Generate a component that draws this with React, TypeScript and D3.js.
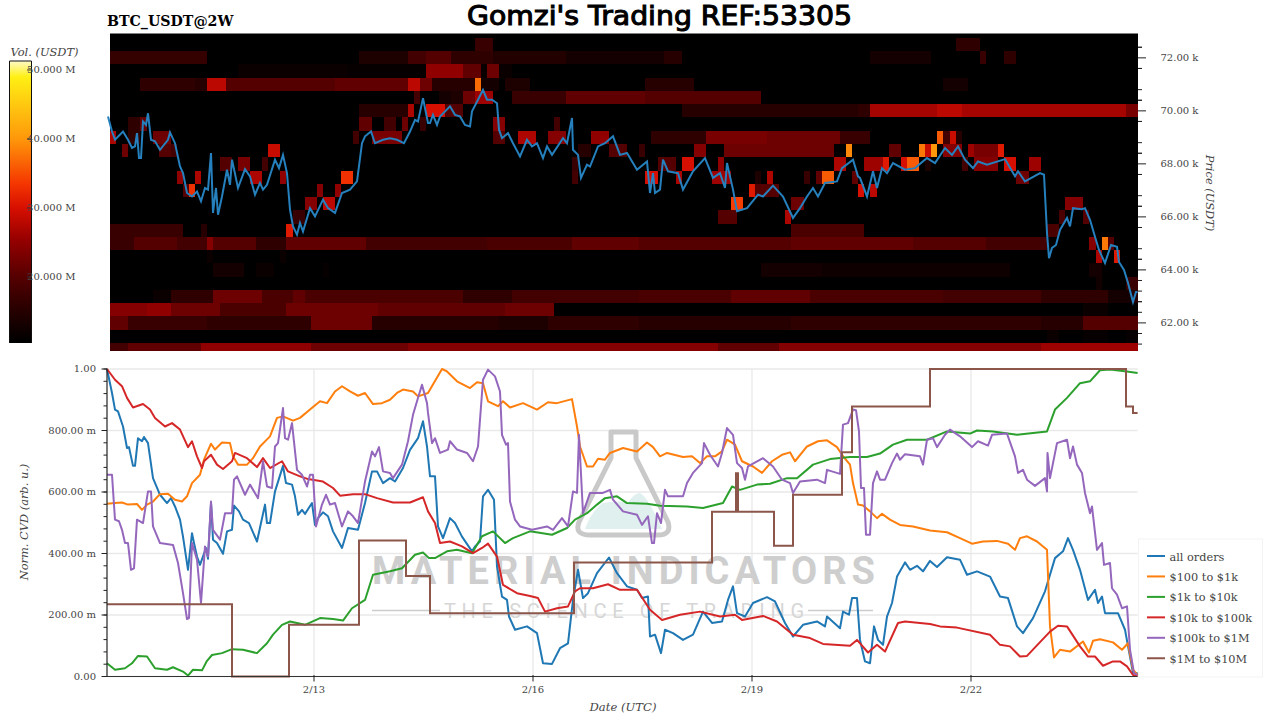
import React from 'react';
import * as d3 from 'd3';

// CVD samples are [sample number, value in milli-units]; samples come every ~20 min
const SAMPLE_MS = (24 * 3600 * 1000) / 73;
const FEB13 = Date.UTC(2026, 1, 13);
const START = FEB13 - 207 * SAMPLE_MS;
const LAST_SAMPLE = 1030.6;
const BAR_MS = 2 * 3600 * 1000;
const BAR_OFFSET = 3; // first heatmap bar starts 3 samples in

const price: [number, number][] = [
  [1,69.79],[5,69.22],[8,68.91],[16,69.22],[21,68.91],[25,68.6],[28,68.66],[30,69.16],[32,68.22],[34,68.22],[36,69.6],[39,69.47],[41,69.91],[44,68.91],[48,68.85],[53,68.53],[61,68.91],[63,69.19],[68,68.78],[73,67.9],[76,67.65],[80,66.9],[85,66.77],[90,66.96],[94,66.59],[98,67.09],[101,67.03],[104,68.41],[106,66.15],[109,67.09],[111,66.08],[115,66.77],[120,67.78],[123,67.21],[125,68.16],[131,67.09],[138,67.8],[143,67.53],[148,66.84],[153,67.28],[156,67.03],[160,67.21],[168,68.16],[172,67.84],[176,68.34],[180,67.65],[183,66.27],[186,65.64],[190,65.33],[193,65.77],[196,65.45],[203,66.33],[208,66.02],[216,66.65],[221,66.33],[228,66.15],[235,66.9],[243,67.03],[250,67.34],[255,68.78],[258,69.04],[264,69.22],[268,68.78],[276,68.91],[283,68.97],[290,68.91],[297,68.78],[303,69.22],[308,69.66],[311,69.6],[316,70.48],[321,69.54],
  [323,69.54],[326,69.85],[330,69.47],[333,69.79],[343,70.17],[348,69.85],[353,69.79],[358,69.47],[363,69.41],[365,69.98],[371,70.42],[376,70.79],[380,70.42],[385,70.42],[390,70.29],[392,69.29],[395,68.97],[401,69.16],[406,68.78],[413,68.28],[420,68.91],[425,68.66],[430,68.78],[436,68.22],[440,68.66],[445,68.34],[456,68.97],[460,68.78],[465,69.73],[466,68.53],[471,68.34],[474,67.47],[480,67.97],[483,67.9],[491,68.66],[498,68.78],[506,69.04],[513,68.34],[520,68.41],[530,67.78],[540,68.09],[543,66.9],[546,67.65],[548,66.9],[553,67.03],[556,68.16],[561,67.72],[571,67.65],[576,67.03],[586,67.72],[598,68.22],[606,67.47],[613,67.65],[618,67.09],[620,68.03],[626,67.03],[630,66.21],[640,66.33],[651,66.84],[656,66.77],[666,67.18],[676,66.77],[686,65.96],[693,66.33],[700,66.77],[706,67.09],[711,66.77],[718,67.28],[730,67.34],[735,67.84],[746,68.16],[751,67.53],
  [753,67.47],[760,66.77],[766,67.72],[770,67.09],[775,67.84],[780,67.65],[786,68.03],[798,67.78],[808,67.84],[820,68.22],[828,68.03],[838,68.6],[845,68.34],[851,68.66],[858,68.16],[866,67.84],[871,68.09],[880,67.97],[898,68.18],[908,67.53],[911,67.72],[918,67.34],[933,67.65],[937,67.59],[940,65.39],[942,64.44],[945,64.83],[949,64.94],[953,65.51],[955,65.64],[960,65.96],[963,65.64],[966,66.33],[975,66.29],[978,66.33],[983,65.89],[988,65.25],[992,64.75],[998,64.26],[1004,64.94],[1010,64.87],[1012,64.3],[1017,64],[1021,63.51],[1026,62.79],[1029,63.17],[1030.6,63.17],
];

const allOrders: [number, number][] = [
  [0,1000],[5,922],[8,868],[11,862],[16,813],[20,743],[22,746],[26,685],[28,685],[31,775],[35,765],[37,779],[41,759],[46,645],[53,591],[60,564],[64,580],[68,553],[73,510],[76,455],[81,347],[85,466],[87,434],[90,390],[93,363],[99,418],[101,383],[104,564],[106,445],[110,434],[116,399],[120,472],[125,477],[127,556],[132,537],[136,510],[142,499],[150,439],[154,499],[158,559],[160,499],[163,499],[168,602],[176,685],[179,629],[185,624],[188,586],[191,526],[195,542],[198,529],[205,564],[208,493],[211,515],[216,534],[221,521],[226,472],[235,418],[241,483],[251,477],[258,564],[265,667],[270,667],[276,629],[283,645],[288,634],[296,678],[303,737],[311,775],[316,830],[320,748],[323,651],
  [328,651],[331,488],[336,450],[343,515],[348,499],[355,455],[365,407],[368,423],[373,439],[376,586],[381,607],[387,575],[390,358],[395,260],[400,249],[402,195],[408,152],[420,163],[430,141],[436,43],[445,41],[453,92],[461,108],[466,249],[471,347],[476,255],[481,271],[490,336],[502,387],[510,336],[520,293],[530,282],[535,255],[541,260],[543,130],[548,136],[554,76],[558,152],[566,141],[576,119],[586,136],[596,211],[605,174],[615,179],[621,249],[626,293],[630,206],[638,195],[646,239],[660,258],[668,244],[678,174],[686,130],[696,168],[710,179],[718,163],[720,195],[733,157],[736,211],[742,201],
  [745,255],[750,255],[753,119],[758,49],[763,43],[767,163],[771,119],[776,103],[780,195],[785,239],[790,325],[798,371],[803,347],[810,360],[816,342],[823,376],[830,356],[840,388],[853,380],[860,331],[870,342],[883,325],[893,260],[901,255],[910,163],[916,141],[926,190],[938,277],[948,385],[956,407],[961,450],[966,412],[973,347],[981,249],[988,282],[991,239],[995,260],[998,206],[1011,206],[1018,152],[1026,11],[1030.6,11],
];

const from100to1k: [number, number][] = [
  [0,562],[8,564],[15,566],[21,559],[30,561],[35,542],[40,559],[46,569],[53,593],[61,594],[68,575],[75,569],[80,586],[85,629],[93,656],[97,705],[104,757],[108,738],[115,761],[123,759],[126,716],[131,689],[140,689],[146,710],[153,748],[163,781],[170,841],[176,846],[186,832],[193,841],[203,868],[213,895],[220,889],[228,927],[235,944],[243,927],[251,913],[258,922],[266,886],[275,889],[283,900],[290,922],[296,933],[306,927],[311,911],[321,922],
  [335,1000],[340,992],[350,960],[363,938],[370,957],[376,954],[381,895],[391,879],[396,895],[403,875],[416,889],[430,868],[441,892],[450,889],[465,902],[470,813],[473,748],[480,683],[486,683],[491,708],[498,705],[503,727],[516,743],[530,732],[540,761],[546,746],[553,716],[560,727],[576,714],[585,716],[593,694],[600,716],[608,716],[615,732],[620,770],[628,754],[635,700],[646,683],[655,662],[665,700],[675,721],[683,729],[688,700],[700,748],[711,765],[720,768],[730,746],[735,721],[743,689],
  [746,629],[751,559],[756,556],[763,537],[770,515],[775,529],[783,510],[793,493],[806,488],[823,475],[840,469],[853,450],[865,432],[876,439],[890,441],[901,432],[908,412],[913,450],[920,456],[930,439],[940,412],[943,163],[947,62],[953,87],[963,81],[976,114],[982,78],[986,116],[993,121],[1006,111],[1015,87],[1021,108],[1026,22],[1030.6,5],
];

const from1kto10k: [number, number][] = [
  [0,43],[8,22],[18,27],[25,43],[31,67],[40,65],[48,27],[60,22],[66,30],[76,16],[81,3],[86,22],[95,20],[100,51],[105,70],[115,76],[125,89],[136,87],[150,76],[160,108],[166,136],[175,168],[183,179],[198,168],[213,190],[226,187],[236,182],[245,222],[258,249],[266,331],[283,342],[295,352],[308,396],[316,403],[322,385],
  [328,385],[340,407],[350,412],[365,401],[375,456],[386,472],[398,434],[406,450],[423,472],[445,461],[460,483],[468,510],[480,531],[490,559],[498,580],[510,586],[520,564],[540,562],[553,555],[580,553],[596,548],[616,564],[625,618],[633,607],[650,624],[663,627],[680,645],[690,645],[706,689],[723,707],[743,714],
  [760,714],[773,725],[786,754],[800,770],[820,770],[840,797],[863,790],[870,800],[886,797],[910,786],[940,797],[948,868],[960,906],[973,954],[983,960],[993,996],[1003,998],[1020,992],[1030.6,987],
];

const from10kto100k: [number, number][] = [
  [0,1000],[8,965],[15,944],[20,906],[26,875],[36,886],[43,868],[48,841],[58,813],[65,824],[73,803],[81,746],[85,765],[90,716],[95,678],[97,700],[104,721],[110,689],[116,675],[125,700],[128,727],[140,710],[150,681],[156,710],[163,678],[175,700],[181,667],[193,651],[201,642],[216,634],[226,613],[233,588],[246,593],[258,593],[270,580],[286,566],[303,566],[316,583],
  [321,537],[328,499],[333,434],[343,439],[355,423],[366,401],[375,418],[381,432],[390,390],[396,298],[410,271],[423,262],[431,255],[438,211],[450,222],[461,228],[468,277],[473,287],[486,287],[501,300],[513,282],[530,282],[543,217],[555,184],[573,201],[593,211],[613,195],[628,201],[635,184],[656,197],[670,179],[686,136],[703,125],[716,106],[743,100],
  [750,119],[761,78],[770,103],[778,81],[791,174],[798,179],[823,171],[833,163],[850,159],[883,136],[893,103],[903,98],[913,65],[920,67],[943,146],[951,165],[960,163],[973,98],[981,65],[988,65],[996,35],[1006,49],[1013,49],[1020,33],[1026,5],[1030.6,2],
];

const from100kto1M: [number, number][] = [
  [0,656],[5,656],[6,607],[8,510],[12,505],[15,477],[18,434],[21,434],[24,347],[27,352],[30,510],[36,499],[41,602],[44,602],[46,488],[53,434],[66,428],[71,369],[76,271],[80,187],[82,190],[85,434],[90,380],[94,239],[98,423],[101,390],[104,569],[106,477],[113,445],[118,531],[125,531],[127,640],[130,651],[138,591],[143,624],[151,580],[156,700],[160,618],[165,613],[168,748],[171,759],[176,873],[178,775],[181,770],[185,824],[190,672],[195,656],[200,618],[203,656],[206,656],[209,488],[215,559],[219,591],[223,559],[228,564],[235,488],[241,537],[246,521],[251,499],[258,634],[265,732],[268,716],[272,746],[276,667],[283,662],[286,645],[295,689],[301,765],[306,851],[310,895],[315,949],[320,889],
  [321,857],[325,759],[328,775],[333,727],[341,738],[343,765],[350,738],[360,727],[366,700],[371,748],[376,965],[381,998],[388,976],[393,927],[395,786],[399,754],[401,759],[403,569],[408,510],[413,488],[425,477],[440,488],[446,477],[455,515],[461,488],[466,602],[470,597],[472,786],[476,531],[483,597],[496,597],[503,607],[506,575],[516,537],[530,526],[535,493],[541,521],[545,434],[547,434],[550,531],[554,499],[558,607],[561,586],[576,586],[580,629],[586,662],[595,694],[597,759],[603,721],[611,683],[615,727],[620,808],[626,786],[630,694],[635,678],[638,640],[641,683],[656,710],[666,683],[675,640],[683,629],[686,597],[693,634],[710,640],[718,629],[720,672],[733,659],[736,819],[741,824],
  [746,868],[749,866],[752,797],[754,613],[757,613],[759,461],[763,461],[766,629],[770,667],[773,640],[778,640],[785,694],[790,725],[793,705],[798,723],[813,716],[816,689],[820,770],[826,775],[830,746],[838,786],[843,803],[853,781],[865,746],[871,765],[881,751],[885,786],[900,790],[908,716],[911,662],[916,672],[920,640],[928,620],[938,645],[940,602],[940.5,727],[943,645],[950,759],[960,770],[963,710],[966,748],[970,689],[975,662],[978,597],[983,531],[985,553],[990,412],[995,434],[997,363],[1003,369],[1005,287],[1010,266],[1015,222],[1020,228],[1023,87],[1027,11],[1030.6,5],
];

// $1M to $10M moves in steps, value holds until the next entry
const from1Mto10M: [number, number][] = [
  [0,235],[125,0],[182,168],[252,442],[299,327],[323,206],[467,371],[605,536],[629,661],[631,536],[667,425],[686,591],[735,729],[745,878],[823,1000],[1019,878],[1026,857],[1030.6,857],
];

const seriesNames = ['all orders', '$100 to $1k', '$1k to $10k', '$10k to $100k', '$100k to $1M', '$1M to $10M'];
const seriesColors = ['#1f77b4', '#ff7f0e', '#2ca02c', '#d62728', '#9467bd', '#8c564b'];

// [price level in k, first 2h bar, end bar, volume in M]
const heatRuns: [number, number, number, number][] = [
  [72.5,60,63,17],[72.5,139,143,16],
  [72,0,16,16.5],[72,41,49,14],[72,49,52,18],[72,52,56,20],[72,56,63,16],[72,63,75,14.5],[72,75,91,13],[72,91,94,15],[72,125,135,13],[72,143,144,17],[72,147,149,16],
  [71.5,21,39,12],[71.5,39,52,11.5],[71.5,52,58,25],[71.5,58,61,21],[71.5,61,62,12],[71.5,62,64,22],[71.5,64,66,12],
  [71,5,14,16],[71,14,16,15],[71,16,19,28],[71,19,37,20],[71,37,49,21],[71,49,51,28],[71,51,53,22],[71,53,60,15],[71,60,61,37],[71,61,64,13],[71,65,69,14],[71,88,96,15],[71,137,141,13],
  [70.5,50,51,18],[70.5,54,56,13],[70.5,56,58,14],[70.5,58,60,22],[70.5,60,63,26],[70.5,66,75,17],[70.5,75,88,21],[70.5,88,107,20],
  [70,41,49,15],[70,49,50,27],[70,52,55,30],[70,55,58,20],[70,94,123,15],[70,123,125,16],[70,125,136,26.5],[70,136,140,28],[70,140,167,26.5],[70,167,169,23],
  [69.5,3,5,16],[69.5,5,6,21],[69.5,41,43,21],[69.5,45,47,18],[69.5,48,49,22],[69.5,51,52,17],[69.5,63,65,24],[69.5,73,74,18],
  [69,0,1,27],[69,3,5,16],[69,7,10,22],[69,40,41,18],[69,43,48,23],[69,63,65,20],[69,67,70,27],[69,72,75,24],[69,79,82,25],[69,89,98,16],[69,98,108,23],[69,108,120,22],[69,120,125,17],[69,136,137,36],[69,137,138,18],[69,138,139,29],[69,139,140,15],
  [68.5,2,3,22],[68.5,8,10,20],[68.5,10,11,18],[68.5,26,28,29],[68.5,77,79,15],[68.5,82,85,20],[68.5,87,88,17],[68.5,96,98,24],[68.5,101,119,22],[68.5,121,122,39],[68.5,128,130,21],[68.5,133,134,38],[68.5,134,135,29],[68.5,135,136,40],[68.5,137,140,24],[68.5,141,142,26],[68.5,142,146,23],[68.5,146,147,31],
  [68,18,20,20],[68,21,23,23],[68,25,26,18],[68,76,77,17],[68,90,93,20],[68,94,96,30],[68,100,101,25],[68,119,121,27],[68,124,127,26],[68,127,128,31],[68,130,131,30],[68,131,133,36],[68,134,135,14],[68,140,141,18],[68,142,146,24],[68,147,149,30],[68,151,153,26],
  [67.5,11,12,25],[67.5,14,15,27],[67.5,23,25,27],[67.5,28,29,25],[67.5,38,40,33],[67.5,76,77,18],[67.5,88,90,30],[67.5,93,94,27],[67.5,99,102,26],[67.5,106,107,14],[67.5,108,109,27],[67.5,114,115,17],[67.5,116,117,21],[67.5,117,119,36],[67.5,122,123,21],[67.5,149,151,22],
  [67,12,13,20],[67,13,14,33],[67,34,35,24],[67,37,38,25],[67,105,106,31],[67,106,110,20],[67,123,124,30],[67,125,126,28],
  [66.5,32,34,24],[66.5,35,37,28],[66.5,102,104,34],[66.5,112,114,22],[66.5,157,160,24],
  [66,30,32,17],[66,100,103,20],[66,111,112,27],[66,156,157,19],[66,160,161,20],
  [65.5,0,12,17],[65.5,15,16,15],[65.5,29,30,31],[65.5,112,124,19],[65.5,154,156,19],
  [65,0,4,17],[65,4,11,20],[65,11,16,18],[65,16,17,24],[65,17,24,20],[65,24,29,16],[65,29,42,21],[65,42,62,18],[65,62,76,19],[65,76,87,21],[65,87,112,20],[65,112,132,21],[65,132,144,20],[65,144,154,18],[65,161,162,24],[65,163,164,38],[65,164,165,20],
  [64.5,16,17,12],[64.5,28,29,12],[64.5,162,163,27],[64.5,165,166,31],
  [64,17,22,13],[64,24,27,12],[64,35,36,11.5],[64,107,117,13],[64,117,148,12.3],[64,161,163,13],
  [63.5,162,163,12.5],[63.5,167,169,17],
  [63,7,10,12],[63,10,17,16],[63,17,25,22],[63,25,30,19],[63,30,32,21],[63,32,58,19],[63,58,66,16],[63,66,87,18],[63,87,102,19],[63,102,115,21],[63,115,137,19],[63,137,153,18],[63,153,164,16],[63,164,168,13],[63,168,169,15],
  [62.5,0,6,24],[62.5,6,10,25],[62.5,10,18,22],[62.5,18,29,19],[62.5,29,44,22],[62.5,44,65,21],[62.5,65,73,22],[62.5,160,164,12],
  [62,0,3,21],[62,3,16,17],[62,16,33,16],[62,33,43,22],[62,43,64,15],[62,64,72,14],[62,72,87,16],[62,87,112,15],[62,112,153,16],[62,153,160,15],[62,160,169,20],
  [61.5,154,156,12],[61.5,160,164,11.5],[61.5,167,169,11.5],
  [61,0,3,18],[61,3,15,21],[61,15,33,25],[61,33,49,22],[61,49,100,24],[61,100,110,21],[61,110,153,24],[61,153,169,26],
];

const volStops = [10.7, 15.8, 20, 25.4, 30, 33.6, 39.9, 49, 51.3];
const volColors = ['#000000', '#2d0000', '#550000', '#960000', '#d70f00', '#f53700', '#ff960a', '#fff014', '#fffac8'];

const priceTicks = [62, 64, 66, 68, 70, 72];
const volTicks = [20, 30, 40, 50];
const cvdTicks = [0, 200, 400, 600, 800, 1000];
const dateTicks = [13, 16, 19, 22];

const serif = '"DejaVu Serif", serif';
const axisGray = '#444';

const App: React.FC = () => {
  const toDate = (s: number) => new Date(START + s * SAMPLE_MS);

  const x = d3.scaleUtc().domain([toDate(0), toDate(LAST_SAMPLE)]).range([107, 1137.6]);
  const yPrice = d3.scaleLinear().domain([60.94, 72.9]).range([351, 34]);
  const yCvd = d3.scaleLinear().domain([0, 1000]).range([676.5, 369]);
  const yVol = d3.scaleLinear().domain([10.43, 51.3]).range([343, 61]);
  const heat = d3.scaleLinear<string>().domain(volStops).range(volColors).clamp(true);

  const barX = (b: number) => x(new Date(START + BAR_OFFSET * SAMPLE_MS + b * BAR_MS));

  const priceLine = d3.line<[number, number]>()
    .x(d => x(toDate(d[0])))
    .y(d => yPrice(d[1]));
  const cvdLine = d3.line<[number, number]>()
    .x(d => x(toDate(d[0])))
    .y(d => yCvd(d[1]));
  const cvdStep = d3.line<[number, number]>()
    .x(d => x(toDate(d[0])))
    .y(d => yCvd(d[1]))
    .curve(d3.curveStepAfter);

  const series = [allOrders, from100to1k, from1kto10k, from10kto100k, from100kto1M];
  const priceMinor = d3.range(61, 73, 0.4).map(v => 72 - Math.round((72 - v) / 0.4) * 0.4).filter(v => v > 60.95 && v < 72.9);
  const cvdMinor = d3.range(0, 1001, 40);
  const fmtMilli = (v: number) => (v === 0 ? '0.00' : v === 1000 ? '1.00' : `${v.toFixed(2)} m`);

  return (
    <svg width={1280} height={720} style={{ position: 'absolute', left: 0, top: 0, background: '#fff' }}>
      <defs>
        <clipPath id="heat-clip">
          <rect x={110} y={34} width={1028} height={317} />
        </clipPath>
        <linearGradient id="vol-gradient" x1="0" y1="1" x2="0" y2="0">
          {volStops.map((v, i) => (
            <stop key={v} offset={(v - 10.43) / (51.3 - 10.43)} stopColor={volColors[i]} />
          ))}
        </linearGradient>
      </defs>

      {/* titles */}
      <text x={659.5} y={25} textAnchor="middle" fontFamily='"DejaVu Sans", sans-serif' fontSize={27} stroke="#000" strokeWidth={1.1} fill="#000" textLength={385} lengthAdjust="spacingAndGlyphs">Gomzi's Trading REF:53305</text>
      <text x={107} y={26} fontFamily={serif} fontSize={14.2} fontWeight="bold" fill="#000">BTC_USDT@2W</text>

      {/* heatmap panel */}
      <rect x={110} y={33.5} width={1028} height={317.5} fill="#000" />
      <g clipPath="url(#heat-clip)" shapeRendering="crispEdges">
        {heatRuns.map(([p, b0, b1, v], i) => (
          <rect key={i} x={barX(b0)} width={barX(b1) - barX(b0)} y={yPrice(p + 0.25)} height={yPrice(p - 0.25) - yPrice(p + 0.25)} fill={heat(v)} />
        ))}
      </g>
      <path d={priceLine(price) ?? ''} fill="none" stroke="#2580bd" strokeWidth={2} />

      {/* price axis */}
      {priceMinor.map(v => (
        <line key={v} x1={1138} x2={1142} y1={yPrice(v)} y2={yPrice(v)} stroke="#222" />
      ))}
      {priceTicks.map(v => (
        <g key={v}>
          <line x1={1138} x2={1146} y1={yPrice(v)} y2={yPrice(v)} stroke="#222" />
          <text x={1160.5} y={yPrice(v) + 3} fontFamily={serif} fontSize={10} fill={axisGray}>{`${v.toFixed(2)} k`}</text>
        </g>
      ))}
      <text transform="translate(1206,193) rotate(90)" textAnchor="middle" fontFamily={serif} fontStyle="italic" fontSize={11.4} fill={axisGray}>Price (USDT)</text>

      {/* volume colour bar */}
      <text x={44.5} y={56} textAnchor="middle" fontFamily={serif} fontStyle="italic" fontSize={11.4} fill={axisGray}>Vol. (USDT)</text>
      <rect x={9.5} y={61} width={22} height={282} fill="url(#vol-gradient)" />
      <path d="M9.5,343V61H31.5V343" fill="none" stroke="#111" />
      {volTicks.map(v => (
        <g key={v}>
          <line x1={27} x2={32} y1={yVol(v)} y2={yVol(v)} stroke="#333" />
          <text x={75.5} y={yVol(v) + 3.5} textAnchor="end" fontFamily={serif} fontSize={10} fill={axisGray}>{`${v.toFixed(3)} M`}</text>
        </g>
      ))}

      {/* grid */}
      {cvdTicks.map(v => (
        <line key={v} x1={107} x2={1137.6} y1={yCvd(v)} y2={yCvd(v)} stroke="#e9e9e9" strokeWidth={1.3} />
      ))}
      {dateTicks.map(d => (
        <line key={d} x1={x(new Date(Date.UTC(2026, 1, d)))} x2={x(new Date(Date.UTC(2026, 1, d)))} y1={369} y2={676.5} stroke="#e9e9e9" strokeWidth={1.3} />
      ))}

      {/* watermark */}
      <g>
        <path d="M585,529 Q592,510 603,503 Q620,500 628,503 Q634,493 640,493 Q648,497 662,529 Z" fill="#dff0ee" />
        <path d="M611,458 V432 H636 V458 L668,522 Q672,535 658,535 H590 Q574,535 579,522 Z" fill="none" stroke="#c9c9c9" strokeWidth={5} strokeLinejoin="round" />
        <text x={623.5} y={584} textAnchor="middle" fontFamily="Roboto, sans-serif" fontWeight="bold" fontSize={38} fill="#cecece" textLength={503} lengthAdjust="spacing">MATERIAL INDICATORS</text>
        <text x={624} y={618} textAnchor="middle" fontFamily="Roboto, sans-serif" fontSize={20} fill="#d6d6d6" textLength={360} lengthAdjust="spacing">THE SCIENCE OF TRADING</text>
        <line x1={372} x2={440} y1={610.5} y2={610.5} stroke="#cccccc" strokeWidth={1.5} />
        <line x1={808} x2={873} y1={610.5} y2={610.5} stroke="#cccccc" strokeWidth={1.5} />
      </g>

      {/* cvd lines */}
      {series.map((s, i) => (
        <path key={i} d={cvdLine(s) ?? ''} fill="none" stroke={seriesColors[i]} strokeWidth={2} strokeLinejoin="round" />
      ))}
      <path d={cvdStep(from1Mto10M) ?? ''} fill="none" stroke={seriesColors[5]} strokeWidth={2} />

      {/* cvd axes */}
      <line x1={107} x2={107} y1={368.5} y2={677} stroke="#222" strokeWidth={1.2} />
      <line x1={107} x2={1137.6} y1={676.5} y2={676.5} stroke="#333" strokeWidth={1.2} />
      {cvdMinor.map(v => (
        <line key={v} x1={103.5} x2={107} y1={yCvd(v)} y2={yCvd(v)} stroke="#222" />
      ))}
      {cvdTicks.map(v => (
        <g key={v}>
          <line x1={101.5} x2={107} y1={yCvd(v)} y2={yCvd(v)} stroke="#222" />
          <text x={96} y={yCvd(v) + 3} textAnchor="end" fontFamily={serif} fontSize={10} fill={axisGray}>{fmtMilli(v)}</text>
        </g>
      ))}
      {dateTicks.map(d => {
        const px = x(new Date(Date.UTC(2026, 1, d)));
        return (
          <g key={d}>
            <line x1={px} x2={px} y1={675} y2={681.5} stroke="#222" />
            <text x={px} y={693} textAnchor="middle" fontFamily={serif} fontSize={10} fill={axisGray}>{`2/${d}`}</text>
          </g>
        );
      })}
      <text x={623} y={711} textAnchor="middle" fontFamily={serif} fontStyle="italic" fontSize={11.6} fill={axisGray}>Date (UTC)</text>
      <text transform="translate(28,522) rotate(-90)" textAnchor="middle" fontFamily={serif} fontStyle="italic" fontSize={11.4} fill={axisGray}>Norm. CVD (arb. u.)</text>

      {/* legend */}
      <rect x={1138.5} y={539} width={124} height={138} fill="#fff" stroke="#f3f3f3" />
      {seriesNames.map((name, i) => (
        <g key={name}>
          <line x1={1147} x2={1165} y1={556 + i * 20.45} y2={556 + i * 20.45} stroke={seriesColors[i]} strokeWidth={2} />
          <text x={1169.5} y={560.5 + i * 20.45} fontFamily={serif} fontSize={11.3} fill={axisGray}>{name}</text>
        </g>
      ))}
    </svg>
  );
};

export default App;
